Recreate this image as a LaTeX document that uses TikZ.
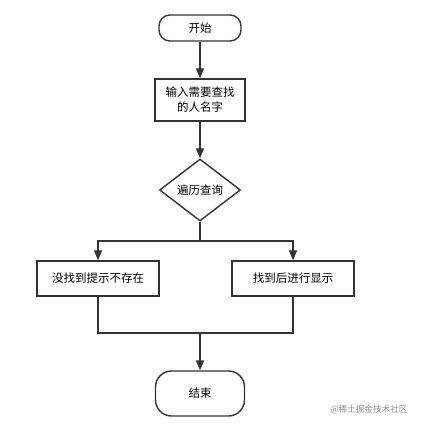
\documentclass[tikz,border=0pt]{standalone}
\usepackage{fontspec}
\setmainfont{Noto Sans CJK SC}
\usetikzlibrary{arrows.meta, positioning, shapes.geometric}

\begin{document}
\begin{tikzpicture}[x=1pt,y=-1pt,font=\fontsize{11.5}{15}\selectfont,
  line/.style={draw=black!80,line width=1.4pt},
  arr/.style={line,-{Triangle[length=10pt,width=8pt]}},
  box/.style={line,fill=white,align=center,inner sep=0pt},
  term/.style={box,rounded corners=#1}]
  \fill[white] (0,0) rectangle (423,427);
  \useasboundingbox (0,0) rectangle (423,427);

  \node[term=11pt,minimum width=82pt,minimum height=26pt] (start) at (200,28) {开始};
  \node[box,minimum width=90pt,minimum height=42pt] (input) at (200,100) {输入需要查找\\的人名字};
  \node[box,diamond,aspect=1.3,minimum width=81pt,minimum height=62pt] (query) at (200,190) {遍历查询};
  \node[box,minimum width=122pt,minimum height=35pt] (nofound) at (98,278.5) {没找到提示不存在};
  \node[box,minimum width=122pt,minimum height=35pt] (found) at (293,278.5) {找到后进行显示};
  \node[term=16pt,minimum width=89pt,minimum height=45pt] (finish) at (200,393.5) {结束};
  \node[anchor=east,text=black!45,font=\fontsize{8.6}{9}\selectfont] (mark) at (411,410) {@稀土掘金技术社区};

  \coordinate (split) at (200,241);
  \coordinate (merge) at (200,333);

  \draw[arr] (start) -- (input);
  \draw[arr] (input) -- (query);
  \draw[line] (query) -- (split);
  \draw[arr] (split) -| (nofound);
  \draw[arr] (split) -| (found);
  \draw[line] (nofound) |- (merge);
  \draw[line] (found) |- (merge);
  \draw[arr] (merge) -- (finish);
\end{tikzpicture}
\end{document}
